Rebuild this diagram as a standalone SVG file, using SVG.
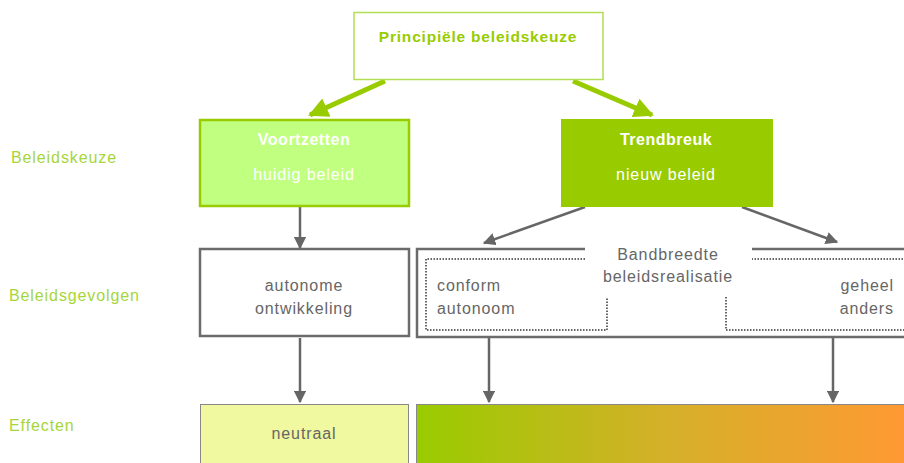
<svg xmlns="http://www.w3.org/2000/svg" width="904" height="463" viewBox="0 0 904 463">
<style>
text{font-family:"Liberation Sans","DejaVu Sans",sans-serif;font-size:16px;letter-spacing:0.9px}
.lbl{fill:#a6d63a}
.wt{fill:#fff;text-anchor:middle}
.gt{fill:#666;text-anchor:middle}
.gline{stroke:#6b6b6b;stroke-width:2.5;fill:none}
.dot{stroke:#666;stroke-width:2;stroke-dasharray:1.5 1.5;fill:none}
.ga{stroke:#99cc00;stroke-width:5;fill:none}
.gr{stroke:#666;stroke-width:2.5;fill:none}
</style>
<defs>
<marker id="ah" viewBox="0 0 10 10" refX="9" refY="5" markerWidth="5" markerHeight="5" orient="auto" markerUnits="strokeWidth"><path d="M0,0L10,5L0,10z" fill="#666"/></marker>
<marker id="gh" viewBox="0 0 10 10" refX="9" refY="5" markerWidth="4" markerHeight="4" orient="auto" markerUnits="strokeWidth"><path d="M0,0L10,5L0,10z" fill="#99cc00"/></marker>
<linearGradient id="grad" x1="0" y1="0" x2="1" y2="0"><stop offset="0" stop-color="#99cc00"/><stop offset="0.5" stop-color="#d4b028"/><stop offset="1" stop-color="#ff9933"/></linearGradient>
</defs>
<g id="labels">
<text class="lbl" x="11" y="163">Beleidskeuze</text>
<text class="lbl" x="9" y="301">Beleidsgevolgen</text>
<text class="lbl" x="9" y="431">Effecten</text>
</g>
<g id="connectors">
<line class="ga" x1="385" y1="81" x2="310" y2="115" marker-end="url(#gh)"/>
<line class="ga" x1="573" y1="81" x2="652" y2="115" marker-end="url(#gh)"/>
<line class="gr" x1="300" y1="207" x2="300" y2="248" marker-end="url(#ah)"/>
<line class="gr" x1="585" y1="207" x2="484" y2="243" marker-end="url(#ah)"/>
<line class="gr" x1="742" y1="207" x2="837" y2="242" marker-end="url(#ah)"/>
<line class="gr" x1="300" y1="338" x2="300" y2="402" marker-end="url(#ah)"/>
<line class="gr" x1="489" y1="338" x2="489" y2="402" marker-end="url(#ah)"/>
<line class="gr" x1="833" y1="338" x2="833" y2="402" marker-end="url(#ah)"/>
</g>
<g id="principle">
<rect x="354" y="12.5" width="249" height="67" fill="#fff" stroke="#b3dd55" stroke-width="1.5"/>
<text x="478" y="42" text-anchor="middle" fill="#99cc00" font-weight="bold" style="font-size:15.5px;letter-spacing:0.8px">Principiële beleidskeuze</text>
</g>
<g id="voortzetten">
<rect x="200" y="120" width="209" height="86" fill="#c0ff80" stroke="#99cc00" stroke-width="2.5"/>
<text class="wt" x="304" y="145" font-weight="bold" style="letter-spacing:0.5px">Voortzetten</text>
<text class="wt" x="304" y="180">huidig beleid</text>
</g>
<g id="trendbreuk">
<rect x="561" y="119" width="212" height="88" fill="#99cc00"/>
<text class="wt" x="666" y="145" font-weight="bold" style="letter-spacing:0.5px">Trendbreuk</text>
<text class="wt" x="666" y="180">nieuw beleid</text>
</g>
<g id="autonome">
<rect x="200" y="249" width="209" height="87" fill="#fff" class="gline"/>
<text class="gt" x="304" y="291">autonome</text>
<text class="gt" x="304" y="314">ontwikkeling</text>
</g>
<g id="bandbreedte">
<path class="gline" d="M585,249H417V337H906M906,249H752"/>
<path class="dot" d="M585,259H426V330H607V297"/>
<path class="dot" d="M906,259H752M726,297V330H906"/>
<text class="gt" x="668" y="260">Bandbreedte</text>
<text class="gt" x="668" y="282">beleidsrealisatie</text>
<text x="437" y="291" fill="#666">conform</text>
<text x="437" y="314" fill="#666">autonoom</text>
<text x="894" y="291" fill="#666" text-anchor="end">geheel</text>
<text x="894" y="314" fill="#666" text-anchor="end">anders</text>
</g>
<g id="neutraal">
<rect x="200.5" y="404.5" width="208" height="62" fill="#f0f8a0" stroke="#888" stroke-width="1"/>
<text class="gt" x="304" y="439">neutraal</text>
</g>
<g id="effect">
<rect x="416.5" y="404.5" width="492" height="62" fill="url(#grad)" stroke="#888" stroke-width="1"/>
</g>
</svg>
